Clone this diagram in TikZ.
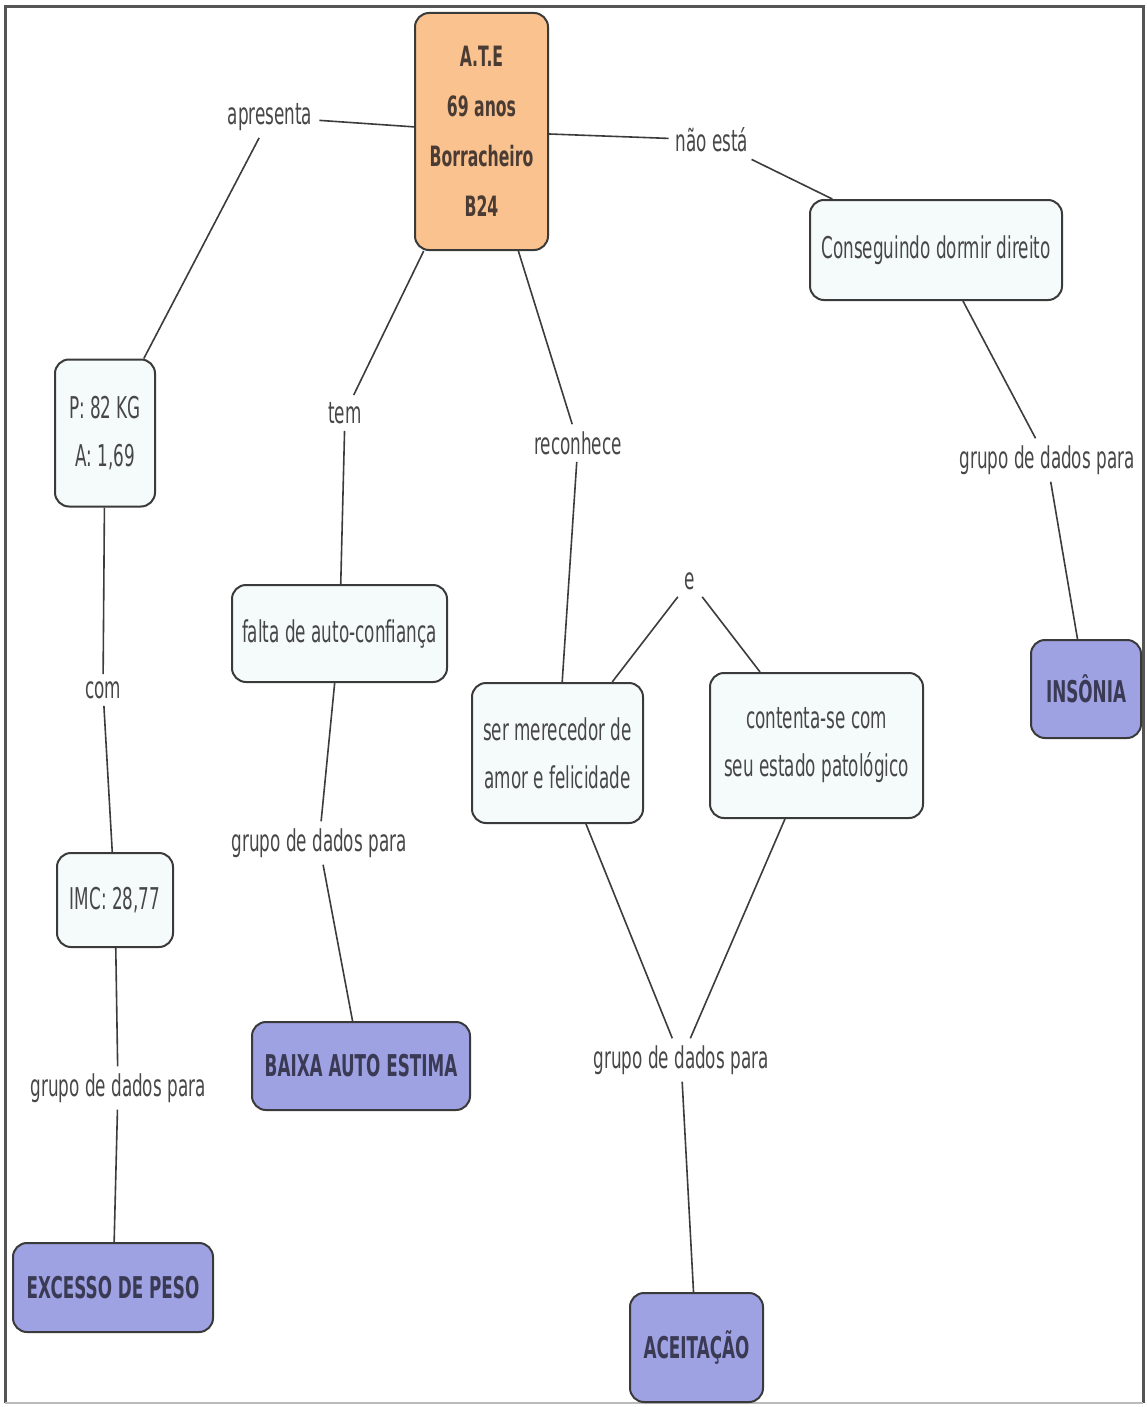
\documentclass[tikz,border=0pt]{standalone}
\usepackage{fontspec}
\setmainfont{DejaVu Sans}[FakeStretch=0.56]
\definecolor{boxline}{HTML}{3A3A3A}
\definecolor{linec}{HTML}{3C3C3C}
\definecolor{boxfill}{HTML}{F5FBFB}
\definecolor{conceptfill}{HTML}{9EA2E2}
\definecolor{rootfill}{HTML}{F9C28E}
\definecolor{txt}{HTML}{474747}
\definecolor{btxt}{HTML}{3A3A55}
\definecolor{rtxt}{HTML}{4A3C34}
\definecolor{framec}{HTML}{555555}
\begin{document}
\begin{tikzpicture}[x=1pt,y=-1pt,
  box/.style={draw=boxline, line width=2pt, rounded corners=14pt, fill=boxfill, text=txt,
    align=center, inner sep=0pt, font=\fontsize{30}{48}\selectfont},
  concept/.style={box, fill=conceptfill, text=btxt, font=\fontsize{30}{48}\selectfont\bfseries},
  root/.style={box, fill=rootfill, text=rtxt, font=\fontsize{28}{50}\selectfont\bfseries},
  lbl/.style={text=txt, inner sep=7pt, font=\fontsize{30}{36}\selectfont},
  link/.style={draw=linec, line width=1.6pt}]
\useasboundingbox (0,0) rectangle (1147,1407);
\fill[white] (0,0) rectangle (1147,1407);
% frame
\draw[framec, line width=3pt] (5,1403) -- (5,7) -- (1143,7) -- (1143,1403);
\draw[framec!40, line width=2pt] (5,1403) -- (1143,1403);

% concept boxes
\node[root, minimum width=133pt, minimum height=237pt] (ate) at (481.5,131.5) {A.T.E\\69 anos\\Borracheiro\\B24};
\node[box, minimum width=252pt, minimum height=100pt] (cons) at (936,250) {Conseguindo dormir direito};
\node[concept, minimum width=110pt, minimum height=98pt] (ins) at (1086,689) {INSÔNIA};
\node[box, minimum width=100pt, minimum height=147pt] (pa) at (105,433) {P: 82 KG\\A: 1,69};
\node[box, minimum width=215pt, minimum height=97pt] (falta) at (339.5,633.5) {falta de auto-confiança};
\node[box, minimum width=171pt, minimum height=140pt] (ser) at (557.5,753) {ser merecedor de\\amor e felicidade};
\node[box, minimum width=213pt, minimum height=145pt] (cont) at (816.5,745.5) {contenta-se com\\seu estado patológico};
\node[box, minimum width=116pt, minimum height=94pt] (imc) at (115,900) {IMC: 28,77};
\node[concept, minimum width=218pt, minimum height=88pt] (baixa) at (361,1066) {BAIXA AUTO ESTIMA};
\node[concept, minimum width=200pt, minimum height=89pt] (exc) at (113,1287.5) {EXCESSO DE PESO};
\node[concept, minimum width=133pt, minimum height=109pt] (acei) at (696.5,1347.5) {ACEITAÇÃO};

% link labels
\node[lbl] (apr) at (270,117) {apresenta};
\node[lbl] (nao) at (712,140) {não está};
\node[lbl] (g1) at (1047,460) {grupo de dados para};
\node[lbl] (tem) at (345,413) {tem};
\node[lbl] (rec) at (578,443) {reconhece};
\node[lbl] (com) at (103,690) {com};
\node[lbl] (e) at (690,581) {e};
\node[lbl] (g2) at (319,843) {grupo de dados para};
\node[lbl] (g3) at (681,1060) {grupo de dados para};
\node[lbl] (g4) at (118,1088) {grupo de dados para};

% connectors
\draw[link] (ate) -- (apr);
\draw[link] (apr) -- (pa);
\draw[link] (ate) -- (nao);
\draw[link] (nao) -- (cons);
\draw[link] (cons) -- (g1);
\draw[link] (g1) -- (ins);
\draw[link] (ate) -- (tem);
\draw[link] (tem) -- (falta);
\draw[link] (ate) -- (rec);
\draw[link] (rec) -- (ser);
\draw[link] (pa) -- (com);
\draw[link] (com) -- (imc);
\draw[link] (falta) -- (g2);
\draw[link] (g2) -- (baixa);
\draw[link] (e) -- (ser);
\draw[link] (e) -- (cont);
\draw[link] (ser) -- (g3);
\draw[link] (cont) -- (g3);
\draw[link] (g3) -- (acei);
\draw[link] (imc) -- (g4);
\draw[link] (g4) -- (exc);
\end{tikzpicture}
\end{document}
